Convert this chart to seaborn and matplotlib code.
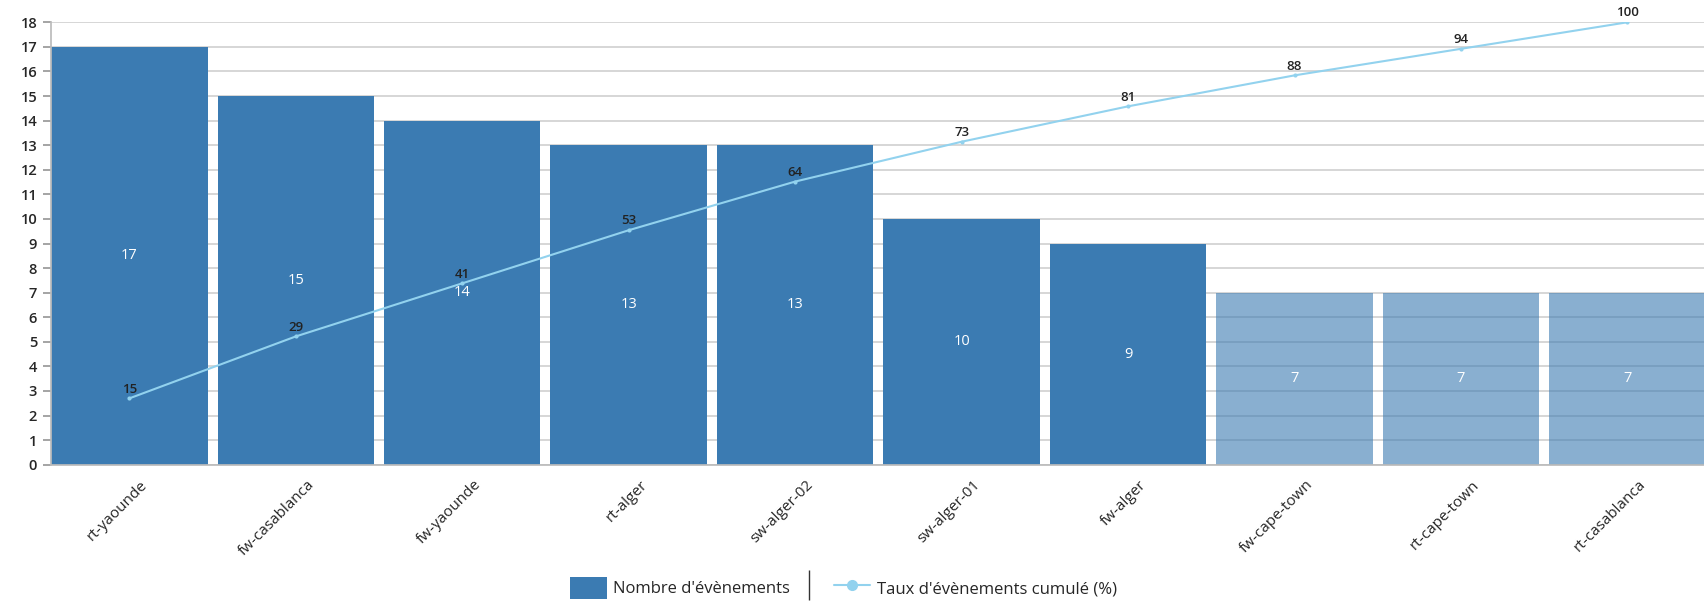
import numpy as np
import seaborn as sns
import matplotlib.pyplot as plt
import matplotlib.transforms as mtransforms
from matplotlib.patches import Patch
from matplotlib.lines import Line2D

# data
equipements = ['rt-yaounde', 'fw-casablanca', 'fw-yaounde', 'rt-alger', 'sw-alger-02',
               'sw-alger-01', 'fw-alger', 'fw-cape-town', 'rt-cape-town', 'rt-casablanca']
nb_evenements = [17, 15, 14, 13, 13, 10, 9, 7, 7, 7]
taux_cumule = [15, 29, 41, 53, 64, 73, 81, 88, 94, 100]
nb_fonces = 7  # the first 7 bars are dark, the rest are faded

bar_color = '#3b7bb2'
line_color = '#92d2ee'

sns.set_theme(style='white')
plt.rcParams['font.family'] = ['Open Sans', 'DejaVu Sans']

fig = plt.figure(figsize=(17.04, 6.02), dpi=100)
ax = fig.add_axes([0.030, 0.228, 0.970, 0.735])

sns.barplot(x=equipements, y=nb_evenements, color=bar_color, width=0.94,
            saturation=1, ax=ax, zorder=2)
for i, p in enumerate(ax.patches):
    p.set_edgecolor('none')
    if i >= nb_fonces:
        p.set_alpha(0.6)
    ax.text(p.get_x() + p.get_width() / 2, p.get_height() / 2, str(nb_evenements[i]),
            color='white', ha='center', va='center', fontsize=10.5, zorder=4)

ax.set_ylim(0, 18)
ax.set_xlim(-0.47, 9.46)
ax.set_yticks(range(0, 19))
ax.yaxis.grid(True, color='#cfcfcf', linewidth=1.2, zorder=0)
ax.set_axisbelow(True)
for s in ['top', 'right']:
    ax.spines[s].set_visible(False)
ax.spines['left'].set_color('#bbbbbb')
ax.spines['bottom'].set_color('#bbbbbb')
ax.tick_params(axis='y', left=True, length=6, color='#999999', labelsize=10.5, pad=4)
ax.tick_params(axis='x', bottom=False, labelsize=11, pad=3)
for t in ax.get_yticklabels():
    t.set_fontweight('semibold')
shift = mtransforms.ScaledTranslation(11 / 100, 0, fig.dpi_scale_trans)
for t in ax.get_xticklabels():
    t.set_rotation(45)
    t.set_ha('right')
    t.set_rotation_mode('anchor')
    t.set_transform(t.get_transform() + shift)
ax.set_xlabel('')
ax.set_ylabel('')

# cumulative percentage on a hidden 0-100 axis
ax2 = ax.twinx()
sns.lineplot(x=np.arange(len(equipements)), y=taux_cumule, color=line_color,
             linewidth=1.5, marker='o', markersize=3, markeredgewidth=0, ax=ax2, zorder=5)
ax2.set_ylim(0, 100)
ax2.axis('off')
for i, v in enumerate(taux_cumule):
    ax2.annotate(str(v), (i, v), xytext=(0, 2), textcoords='offset points',
                 ha='center', va='bottom', fontsize=9.5, color='#222222', fontweight='semibold')

handles = [Patch(facecolor=bar_color, edgecolor='none'),
           Line2D([], [], color='#333333', marker='|', linestyle='None', markersize=22),
           Line2D([], [], color=line_color, marker='o', markersize=7, linewidth=1.5)]
labels = ["Nombre d'évènements", '', "Taux d'évènements cumulé (%)"]
fig.legend(handles, labels, loc='lower center', bbox_to_anchor=(0.495, -0.02), ncol=3,
           frameon=False, fontsize=12, handlelength=2.2, handleheight=1.7,
           columnspacing=0.0, handletextpad=0.4)

fig.savefig('out.png', dpi=100)
